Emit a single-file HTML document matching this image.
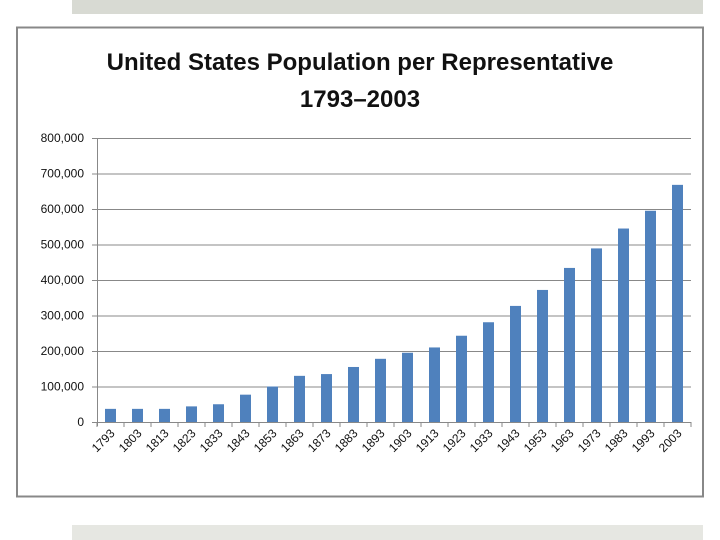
<!DOCTYPE html>
<html><head><meta charset="utf-8"><style>
body{margin:0;width:720px;height:540px;background:#fff;overflow:hidden;font-family:"Liberation Sans",sans-serif}
</style></head><body>
<div style="position:absolute;left:72px;top:0;width:631px;height:14px;background:#d8dad3"></div>
<div style="position:absolute;left:72px;top:525px;width:631px;height:15px;background:#e6e7e2"></div>
<svg id="chart" width="720" height="540" style="position:absolute;left:0;top:0">
<rect x="17" y="27.5" width="686" height="469" fill="none" stroke="#888" stroke-width="2"/>
<text x="360" y="70" text-anchor="middle" font-size="24" font-weight="bold" fill="#111">United States Population per Representative</text>
<text x="360" y="107" text-anchor="middle" font-size="24" font-weight="bold" fill="#111">1793–2003</text>
<g id="g"></g>
</svg>
<script>
const years=[1793,1803,1813,1823,1833,1843,1853,1863,1873,1883,1893,1903,1913,1923,1933,1943,1953,1963,1973,1983,1993,2003];
const values=[37000,37000,37000,44000,50000,77000,100000,130000,135000,155000,178000,195000,210000,243000,281000,327000,372000,434000,489000,545000,595000,668000];
const yTicks=[0,100000,200000,300000,400000,500000,600000,700000,800000];
const x0=97,x1=691,y0=422,y1=138,ymax=800000;
const step=(x1-x0)/years.length;
const ys=v=>y0-(v/ymax)*(y0-y1);
const xs=i=>x0+step*(i+0.5);
const g=document.getElementById('g');const NS='http://www.w3.org/2000/svg';
function mk(t,a){const e=document.createElementNS(NS,t);for(const k in a)e.setAttribute(k,a[k]);g.appendChild(e);return e;}
yTicks.forEach(v=>{
 const l=mk('line',{x1:92,x2:x1,y1:ys(v)+0.5,y2:ys(v)+0.5,stroke:'#888','stroke-width':1});
 
 
 const t=mk('text',{x:84,y:ys(v)+4,'text-anchor':'end','font-size':12,fill:'#111'});
 t.textContent=v.toLocaleString('en-US');
 
 
});
const ax=mk('line',{x1:x0+0.5,x2:x0+0.5,y1:y1,y2:y0+4,stroke:'#888'});


for(let i=0;i<=years.length;i++){
 const tk=mk('line',{x1:x0+step*i,x2:x0+step*i,y1:y0,y2:y0+5,stroke:'#888'});
 
 
}
years.forEach((yr,i)=>{
 const b=mk('rect',{x:xs(i)-5.5,y:ys(values[i]),width:11,height:y0-ys(values[i]),fill:'#4f81bd'});
 
 
 const cx=xs(i)+5,cy=y0+12;
 const t=mk('text',{x:cx,y:cy,'text-anchor':'end','font-size':12,fill:'#111',transform:`rotate(-45 ${cx} ${cy})`});
 t.textContent=yr;
 
 
});
</script>
</body></html>
